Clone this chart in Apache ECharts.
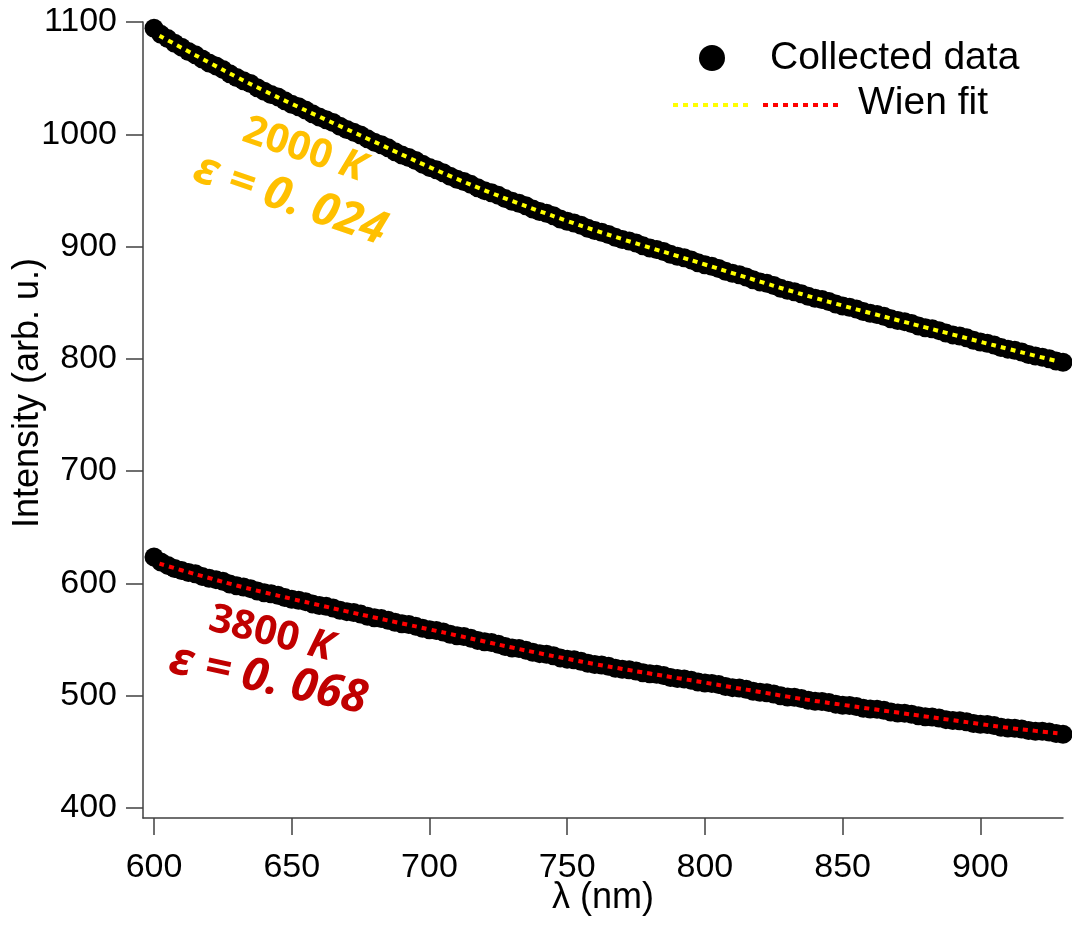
<!DOCTYPE html>
<html>
<head>
<meta charset="utf-8">
<script src="https://cdn.jsdelivr.net/npm/echarts@6/dist/echarts.min.js"></script>
<style>
html,body{margin:0;padding:0;background:#fff;}
#chart{width:1072px;height:926px;}
</style>
</head>
<body>
<div id="chart"></div>
<script>
// ---- data ----
const lambdaData = [600,602.5,605,607.5,610,612.5,615,617.5,620,622.5,625,627.5,630,632.5,635,637.5,640,642.5,645,647.5,
  650,652.5,655,657.5,660,662.5,665,667.5,670,672.5,675,677.5,680,682.5,685,687.5,690,692.5,695,697.5,
  700,702.5,705,707.5,710,712.5,715,717.5,720,722.5,725,727.5,730,732.5,735,737.5,740,742.5,745,747.5,
  750,752.5,755,757.5,760,762.5,765,767.5,770,772.5,775,777.5,780,782.5,785,787.5,790,792.5,795,797.5,
  800,802.5,805,807.5,810,812.5,815,817.5,820,822.5,825,827.5,830,832.5,835,837.5,840,842.5,845,847.5,
  850,852.5,855,857.5,860,862.5,865,867.5,870,872.5,875,877.5,880,882.5,885,887.5,890,892.5,895,897.5,
  900,902.5,905,907.5,910,912.5,915,917.5,920,922.5,925,927.5,930];
const hotData = [1094.5,1089.0,1085.2,1081.0,1077.6,1073.8,1070.9,1067.0,1063.5,1060.9,1057.8,1053.9,1050.6,1047.6,1045.2,1041.4,1038.4,1035.5,1033.3,1029.8,
  1026.8,1024.5,1021.7,1018.3,1015.4,1013.0,1010.5,1007.1,1004.2,1001.9,999.3,995.9,993.0,990.6,987.9,984.5,981.6,979.3,976.6,973.4,
  970.5,968.4,965.7,962.6,960.0,958.0,955.4,952.4,949.8,947.9,945.6,942.7,940.3,938.5,936.3,933.5,931.2,929.6,927.4,924.6,
  922.5,920.9,918.9,916.3,914.2,912.7,910.8,908.3,906.3,904.9,903.1,900.6,898.7,897.4,895.6,893.2,891.3,890.0,888.1,885.6,
  883.7,882.4,880.5,878.0,876.1,874.8,872.9,870.4,868.5,867.2,865.3,862.9,861.0,859.8,858.0,855.7,853.9,852.8,851.1,848.8,
  847.1,846.0,844.4,842.1,840.5,839.5,837.9,835.7,834.1,833.1,831.5,829.3,827.7,826.7,825.1,822.9,821.3,820.3,818.7,816.5,
  814.9,813.9,812.3,810.1,808.6,807.6,806.1,803.9,802.4,801.5,800.0,798.0,797.0];
const coldData = [623.5,619.0,616.0,613.3,611.4,609.6,608.6,606.2,604.5,603.3,601.8,599.4,597.8,596.8,595.3,593.2,591.7,590.8,589.4,587.3,
  585.9,585.0,583.7,581.7,580.3,579.5,578.1,576.1,574.8,574.0,572.6,570.6,569.3,568.6,567.2,565.3,564.0,563.3,561.9,560.0,
  558.7,558.0,556.6,554.6,553.3,552.6,551.2,549.2,547.9,547.3,545.8,543.8,542.5,542.0,540.5,538.6,537.4,536.8,535.5,533.6,
  532.5,532.0,530.7,528.8,527.8,527.3,526.1,524.4,523.5,523.0,521.9,520.3,519.4,519.0,517.9,516.2,515.3,514.9,513.8,512.2,
  511.3,510.9,509.8,508.1,507.1,506.7,505.6,503.9,503.0,502.6,501.5,499.8,498.8,498.5,497.4,495.9,495.0,494.8,493.9,492.4,
  491.5,491.2,490.3,488.8,488.0,487.8,486.9,485.4,484.6,484.4,483.5,482.0,481.2,481.0,480.1,478.6,477.8,477.6,476.7,475.2,
  474.4,474.2,473.3,471.8,471.1,470.9,470.2,468.9,468.3,468.2,467.5,466.2,465.6];

const fitLambda = [602,610,620,630,640,650,660,670,680,690,700,710,720,730,740,750,760,770,780,790,
  800,810,820,830,840,850,860,870,880,890,900,910,920,928];
const hotFit = [1087.8,1077.1,1063.9,1051.0,1038.8,1027.1,1015.7,1004.5,993.3,981.9,
  970.8,960.2,950.1,940.6,931.5,922.8,914.5,906.6,899.0,891.6,
  884.0,876.4,868.8,861.3,854.2,847.4,840.8,834.4,828.0,821.6,815.2,808.9,802.7,797.9];
const coldFit = [617.6,611.7,604.8,598.1,592.0,586.2,580.6,575.0,569.6,564.3,
  559.0,553.6,548.2,542.8,537.7,532.8,528.1,523.8,519.7,515.6,
  511.6,507.4,503.3,499.1,495.3,491.8,488.3,484.9,481.5,478.1,474.7,471.4,468.6,466.5];

const xTicks = [600,650,700,750,800,850,900];
const yTicks = [400,500,600,700,800,900,1000,1100];

const zip = (xs, ys) => xs.map((x, i) => [x, ys[i]]);

const chart = echarts.init(document.getElementById('chart'), null, {renderer: 'canvas'});
const axisColor = '#404040';
const FONT = 'Liberation Sans, Arial, sans-serif';
const tickFont = {color: '#000', fontSize: 34, fontFamily: FONT, formatter: v => String(v)};
const shadow = {shadowColor: 'rgba(0,0,0,0.35)', shadowBlur: 2, shadowOffsetX: 1.5, shadowOffsetY: 1.5};

chart.setOption({
  animation: false,
  backgroundColor: '#fff',
  grid: {left: 143, top: 22, right: 9, bottom: 108, containLabel: false, outerBoundsMode: 'none'},
  xAxis: {
    type: 'value', min: 596, max: 930,
    name: 'λ (nm)', nameLocation: 'middle', nameGap: 62, nameMoveOverlap: false,
    nameTextStyle: {color: '#000', fontSize: 36, fontFamily: FONT},
    axisLine: {show: true, onZero: false, lineStyle: {color: axisColor, width: 1.5}},
    axisTick: {show: true, inside: false, length: 17, customValues: xTicks, lineStyle: {color: axisColor, width: 1.5}},
    axisLabel: Object.assign({customValues: xTicks, margin: 33}, tickFont),
    splitLine: {show: false}
  },
  yAxis: {
    type: 'value', min: 391, max: 1100,
    name: 'Intensity (arb. u.)', nameLocation: 'middle', nameGap: 97, nameRotate: 90, nameMoveOverlap: false,
    nameTextStyle: {color: '#000', fontSize: 36, fontFamily: FONT, padding: [0, 0, 0, 54]},
    axisLine: {show: true, onZero: false, lineStyle: {color: axisColor, width: 1.5}},
    axisTick: {show: true, inside: false, length: 17, customValues: yTicks, lineStyle: {color: axisColor, width: 1.5}},
    axisLabel: Object.assign({customValues: yTicks, margin: 26}, tickFont),
    splitLine: {show: false}
  },
  series: [
    {name: 'Collected data', type: 'scatter', data: zip(lambdaData, hotData), symbol: 'circle', symbolSize: 19,
     itemStyle: {color: '#000', opacity: 1}, z: 2},
    {name: 'Collected data', type: 'scatter', data: zip(lambdaData, coldData), symbol: 'circle', symbolSize: 19,
     itemStyle: {color: '#000', opacity: 1}, z: 2},
    {name: 'Wien fit 2000 K', type: 'line', data: zip(fitLambda, hotFit), smooth: true, showSymbol: false,
     lineStyle: {color: '#FFFF00', width: 4, type: [5, 5]}, z: 3},
    {name: 'Wien fit 3800 K', type: 'line', data: zip(fitLambda, coldFit), smooth: true, showSymbol: false,
     lineStyle: {color: '#FF0000', width: 4, type: [5, 5]}, z: 3}
  ],
  graphic: [
    // legend
    {type: 'circle', shape: {cx: 712, cy: 58, r: 13}, style: {fill: '#000'}},
    {type: 'text', x: 770, y: 58, style: {text: 'Collected data', fill: '#000', fontSize: 39,
      fontFamily: FONT, align: 'left', verticalAlign: 'middle'}},
    {type: 'line', shape: {x1: 673, y1: 105, x2: 750, y2: 105}, style: {stroke: '#FFFF00', lineWidth: 4, lineDash: [5, 5]}},
    {type: 'line', shape: {x1: 763, y1: 105, x2: 840, y2: 105}, style: {stroke: '#FF0000', lineWidth: 4, lineDash: [5, 5]}},
    {type: 'text', x: 858, y: 103, style: {text: 'Wien fit', fill: '#000', fontSize: 39,
      fontFamily: FONT, align: 'left', verticalAlign: 'middle'}},
    // annotations
    {type: 'text', x: 304, y: 150, rotation: -19 * Math.PI / 180, style: Object.assign({
      text: '2000 {k|K}', fill: '#FFC000', fontSize: 40, fontWeight: 'bold', fontFamily: 'Open Sans, sans-serif',
      align: 'center', verticalAlign: 'middle',
      rich: {k: {fill: '#FFC000', fontSize: 40, fontWeight: 'bold', fontStyle: 'italic', fontFamily: 'Open Sans, sans-serif'}}}, shadow)},
    {type: 'text', x: 290, y: 200, rotation: -19 * Math.PI / 180, style: Object.assign({
      text: 'ε = 0. 024', fill: '#FFC000', fontSize: 46, fontWeight: 'bold', fontStyle: 'italic', fontFamily: 'Open Sans, sans-serif',
      align: 'center', verticalAlign: 'middle'}, shadow)},
    {type: 'text', x: 271, y: 634, rotation: -14 * Math.PI / 180, style: Object.assign({
      text: '3800 {k|K}', fill: '#C00000', fontSize: 40, fontWeight: 'bold', fontFamily: 'Open Sans, sans-serif',
      align: 'center', verticalAlign: 'middle',
      rich: {k: {fill: '#C00000', fontSize: 40, fontWeight: 'bold', fontStyle: 'italic', fontFamily: 'Open Sans, sans-serif'}}}, shadow)},
    {type: 'text', x: 268, y: 680, rotation: -12 * Math.PI / 180, style: Object.assign({
      text: 'ε = 0. 068', fill: '#C00000', fontSize: 46, fontWeight: 'bold', fontStyle: 'italic', fontFamily: 'Open Sans, sans-serif',
      align: 'center', verticalAlign: 'middle'}, shadow)}
  ]
});
</script>
</body>
</html>
